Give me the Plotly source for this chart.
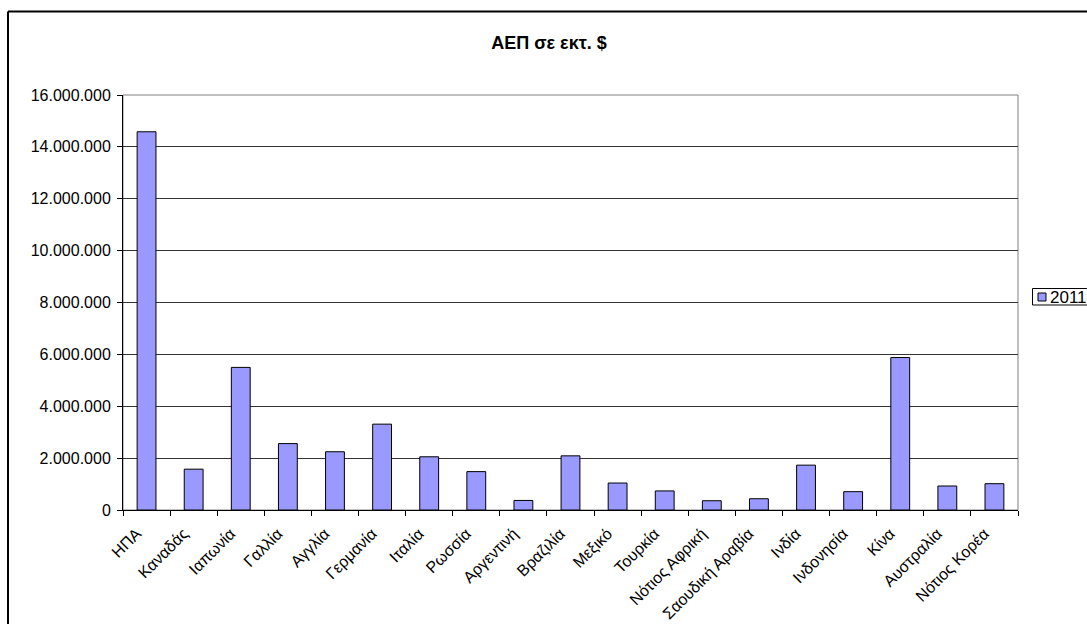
import plotly.graph_objects as go

# GDP in millions of US dollars
countries = [
    "ΗΠΑ", "Καναδάς", "Ιαπωνία", "Γαλλία", "Αγγλία", "Γερμανία", "Ιταλία",
    "Ρωσσία", "Αργεντινή", "Βραζιλία", "Μεξικό", "Τουρκία", "Νότιος Αφρική",
    "Σαουδική Αραβία", "Ινδία", "Ινδονησία", "Κίνα", "Αυστραλία", "Νότιος Κορέα",
]
gdp_2011 = [
    14582400, 1574100, 5497800, 2560000, 2246100, 3309700, 2051400,
    1479800, 368700, 2087900, 1039700, 735300, 357300,
    434700, 1729000, 706600, 5878600, 924800, 1014500,
]
series_name = "2011"
y_ticks = [0, 2000000, 4000000, 6000000, 8000000, 10000000, 12000000, 14000000, 16000000]

W, H = 1087, 624
L, R, T, B = 123, 1018, 95, 510  # plot-area edges in pixels


def px_x(p):
    return (p - L) / (R - L)


def px_y(p):
    return (B - p) / (B - T)


FONT = "Liberation Sans, Arial, sans-serif"
BAR_FILL = "#9999FF"

fig = go.Figure(
    go.Bar(
        x=countries,
        y=gdp_2011,
        name=series_name,
        marker=dict(color=BAR_FILL, line=dict(color="#000000", width=1)),
        showlegend=False,
    )
)

fig.update_layout(
    width=W,
    height=H,
    margin=dict(l=L, r=W - R, t=T, b=H - B, pad=0, autoexpand=False),
    paper_bgcolor="white",
    plot_bgcolor="white",
    separators=",.",
    bargap=0.6,
    font=dict(family=FONT, size=15, color="#000000"),
    title=dict(
        text="<b>ΑΕΠ σε εκτ. $</b>",
        x=px_x(549), xref="paper", xanchor="center",
        y=1 - 43 / H, yref="container", yanchor="middle",
        font=dict(family=FONT, size=18, color="#000000"),
    ),
    xaxis=dict(
        type="category",
        tickangle=-45,
        ticks="outside",
        ticklen=5,
        tickcolor="#000000",
        tickson="boundaries",
        ticklabelstandoff=7,
        ticklabelshift=-10,
        showline=True,
        linecolor="#000000",
        linewidth=1,
        showgrid=False,
        automargin=False,
        tickfont=dict(family=FONT, size=16, color="#000000"),
    ),
    yaxis=dict(
        range=[0, 16000000],
        tickvals=y_ticks,
        tickformat=",d",
        ticks="outside",
        ticklen=5,
        tickcolor="#000000",
        ticklabelstandoff=3,
        showline=True,
        linecolor="#000000",
        linewidth=1,
        showgrid=True,
        gridcolor="#333333",
        gridwidth=1,
        zeroline=False,
        automargin=False,
        tickfont=dict(family=FONT, size=16, color="#000000"),
    ),
    shapes=[
        # grey plot-area frame
        dict(type="rect", xref="paper", yref="paper", x0=0, x1=1, y0=0, y1=1,
             line=dict(color="#808080", width=1), layer="below"),
        # outer chart frame (left and top edges)
        dict(type="line", xref="paper", yref="paper",
             x0=px_x(8), x1=px_x(8), y0=px_y(11.5), y1=px_y(640),
             line=dict(color="#000000", width=2)),
        dict(type="line", xref="paper", yref="paper",
             x0=px_x(8), x1=px_x(1100), y0=px_y(11.5), y1=px_y(11.5),
             line=dict(color="#000000", width=2)),
        # legend box and its swatch
        dict(type="rect", xref="paper", yref="paper",
             x0=px_x(1032.5), x1=px_x(1100), y0=px_y(305), y1=px_y(288.5),
             line=dict(color="#000000", width=1), fillcolor="white"),
        dict(type="rect", xref="paper", yref="paper",
             x0=px_x(1038), x1=px_x(1046), y0=px_y(301), y1=px_y(293),
             line=dict(color="#000000", width=1), fillcolor=BAR_FILL),
    ],
    annotations=[
        dict(text=series_name, xref="paper", yref="paper",
             x=px_x(1048), y=px_y(297), xanchor="left", yanchor="middle",
             showarrow=False, font=dict(family=FONT, size=17, color="#000000")),
    ],
)

fig.write_html("out.html")
